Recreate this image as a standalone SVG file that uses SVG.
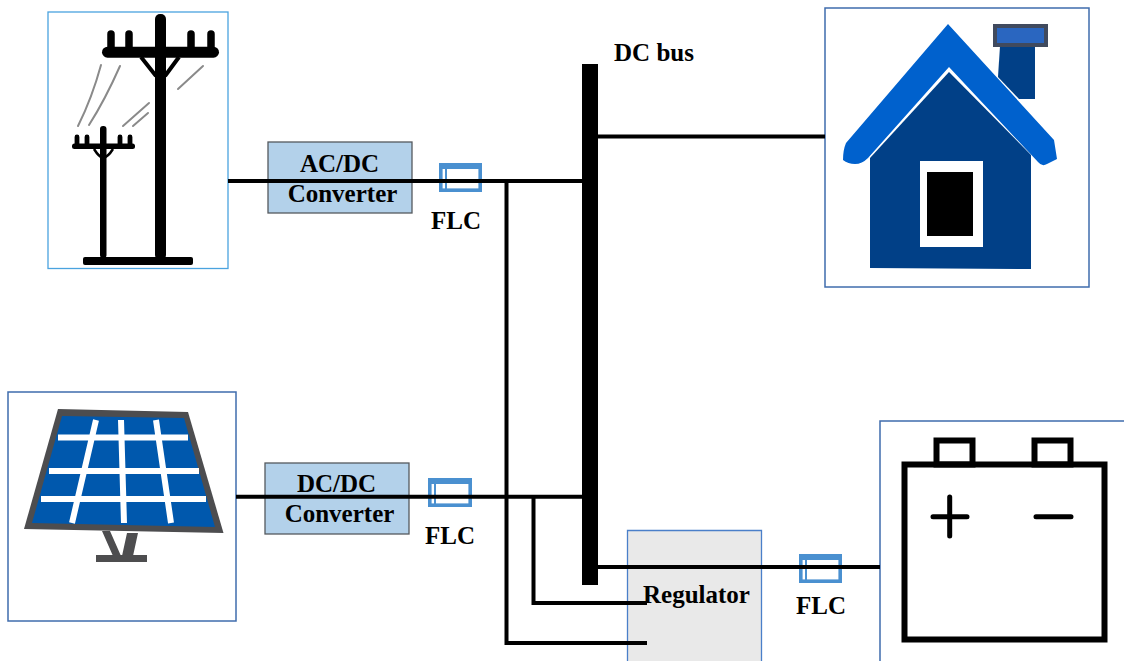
<svg xmlns="http://www.w3.org/2000/svg" width="1124" height="661" viewBox="0 0 1124 661">
<defs>
<style>
text{font-family:"Liberation Serif","Times New Roman",serif;font-weight:bold;font-size:25px;fill:#000;text-anchor:middle}
.frame{fill:#fff;stroke:#3f6cad;stroke-width:1.5}
.conv{fill:#b3d1ea;stroke:#55595e;stroke-width:1.3}
.wire{fill:none;stroke:#000;stroke-width:4}
.flc{fill:#fff;stroke:#4a90d0;stroke-width:3.6}
.flcbar{fill:#4a90d0}
.flcin{fill:none;stroke:#4a90d0;stroke-width:2}
.k{fill:none;stroke:#000}
.g{fill:none;stroke:#8a8a8a;stroke-width:2;stroke-linecap:round}
.white{fill:none;stroke:#fff;stroke-width:6}
</style>
<filter id="soft" x="-5%" y="-5%" width="110%" height="110%"><feGaussianBlur stdDeviation="0.6"/></filter>
</defs>
<rect width="1124" height="661" fill="#fff"/>

<g id="grid-source">
<rect x="48" y="12" width="180" height="256.500" fill="#fff" stroke="#4aa3df" stroke-width="1.300"/>
<g filter="url(#soft)">
<rect x="155" y="14" width="11" height="246" rx="5" fill="#000"/>
<rect x="102" y="46.700" width="117" height="11" rx="5.500" fill="#000"/>
<path d="M111 48V34M129 48V34M191 48V34M211 48V34" class="k" stroke-width="7.500" stroke-linecap="round"/>
<path d="M141 57L156 76M179 57L165 76" class="k" stroke-width="4"/>
<rect x="83" y="257" width="110" height="8" rx="2" fill="#000"/>
<rect x="100" y="126" width="6.500" height="132" rx="3" fill="#000"/>
<rect x="72" y="143.500" width="63" height="5.500" rx="2.500" fill="#000"/>
<path d="M77 146V137M87 146V137M120 146V137M130 146V137" class="k" stroke-width="4.800" stroke-linecap="round"/>
<path d="M94 149Q99 157 103 158Q108 157 113 149" class="k" stroke-width="2.500"/>
<path class="g" d="M101 65Q92 98 78 126M120 66Q105 100 89 125M149 103L123 126M148 113L133 126M203 66L178 89"/>
</g>
</g>

<g id="solar-panel">
<rect x="8" y="392" width="228" height="229" class="frame"/>
<path d="M58 409L188 412L223.500 533L24 529Z" fill="#4d4d4f"/>
<path d="M62 416L184 418L215 527L32 523Z" fill="#0058ad"/>
<path class="white" d="M58 437.500H188M49 471H199M41 499H206M96 420L72 523M121 420L124 523M156 420L171 523"/>
<path d="M102 531H110L121 556H113ZM127 533H138L133 556H122Z" fill="#4d4d4f"/>
<rect x="96" y="555" width="51" height="7" fill="#4d4d4f"/>
</g>

<g id="house">
<rect x="825" y="8" width="264" height="279" class="frame"/>
<path d="M1000 46H1035V99H1019L998 77Z" fill="#014087"/>
<rect x="995" y="26" width="51" height="19" fill="#2a66c0" stroke="#404a5e" stroke-width="4"/>
<path d="M949 72L1031 155V269L870 268V158Z" fill="#014087"/>
<path d="M948 24L1054 140L1057 159L1047 164Q1042 167 1038 162L949 67L868 158Q862 164 855 164Q848 164 843 160Q843 150 846 143Z" fill="#0061cd"/>
<rect x="920" y="161" width="63" height="86" fill="#fff"/>
<rect x="927" y="172" width="46" height="64" fill="#000"/>
</g>

<g id="battery">
<path d="M1124 421H880V661" fill="none" stroke="#3f6cad" stroke-width="1.500"/>
<rect x="904.500" y="464.500" width="200" height="175" class="k" stroke-width="6"/>
<rect x="936.500" y="440.500" width="36" height="24" class="k" stroke-width="6"/>
<rect x="1034.500" y="440.500" width="36" height="24" class="k" stroke-width="6"/>
<path d="M933 516.700H967M949.700 497V536M1036 516.700H1071" class="k" stroke-width="5" stroke-linecap="round"/>
</g>

<g id="ac-dc-converter">
<rect x="268" y="142" width="144" height="71" class="conv"/>
<text x="339.500" y="172">AC/DC</text>
<text x="342.500" y="202">Converter</text>
</g>

<g id="dc-dc-converter">
<rect x="265" y="463" width="144" height="71" class="conv"/>
<text x="336.500" y="492">DC/DC</text>
<text x="339.500" y="522">Converter</text>
</g>

<g id="regulator">
<rect x="627" y="530" width="135" height="131" fill="#e9e9e9"/>
<path d="M627.500 661V530.500H761.500V661" fill="none" stroke="#4a7fc9" stroke-width="1.300"/>
<text x="696.500" y="603">Regulator</text>
</g>

<g id="flc-1">
<rect x="440.800" y="164.800" width="39.400" height="25.400" class="flc"/>
<rect x="439" y="163" width="43" height="6" class="flcbar"/>
<path d="M446 168V190" class="flcin"/>
<text x="456" y="228.500">FLC</text>
</g>
<g id="flc-2">
<rect x="429.800" y="479.800" width="40.400" height="25.400" class="flc"/>
<rect x="428" y="478" width="44" height="6" class="flcbar"/>
<path d="M435 483V505" class="flcin"/>
<text x="450" y="544">FLC</text>
</g>
<g id="flc-3">
<rect x="800.800" y="555.800" width="39.400" height="25.400" class="flc"/>
<rect x="799" y="554" width="43" height="6" class="flcbar"/>
<path d="M806 559V581" class="flcin"/>
<text x="821" y="613.500">FLC</text>
</g>

<g id="dc-bus">
<rect x="582" y="64" width="16" height="521" fill="#000"/>
<text x="654" y="61">DC bus</text>
</g>

<g id="connectors">
<path class="wire" d="M228 181H583"/>
<path class="wire" d="M236 496.700H583"/>
<path class="wire" stroke-width="3" d="M598 136.500H825"/>
<path class="wire" d="M598 567H880"/>
<path class="wire" d="M506.500 181V643H647"/>
<path class="wire" d="M533.500 497V603H647"/>
</g>
</svg>
